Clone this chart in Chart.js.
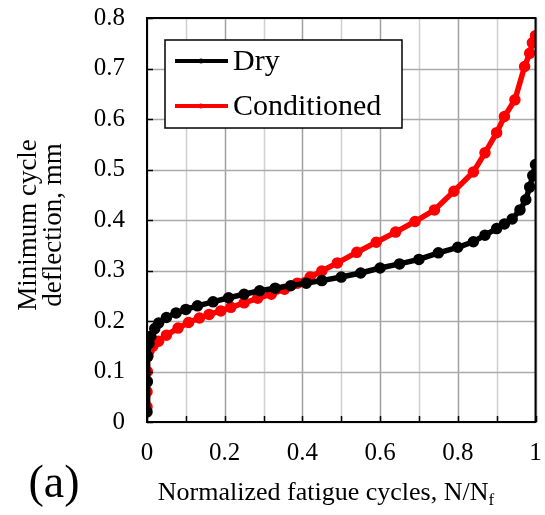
<!DOCTYPE html>
<html>
<head>
<meta charset="utf-8">
<script src="https://cdn.jsdelivr.net/npm/chart.js@4"></script>
<style>
  html, body { margin: 0; padding: 0; background: #fff; }
  #wrap { width: 545px; height: 515px; position: relative; }
</style>
</head>
<body>
<div id="wrap"><canvas id="chart"></canvas></div>
<script>
// normalized cycles N/Nf and minimum deflection (mm)
const dryX = [0, 0.001, 0.002, 0.005, 0.01, 0.02, 0.03, 0.05, 0.075, 0.1, 0.13, 0.17, 0.21, 0.25, 0.29, 0.33, 0.37, 0.41, 0.45, 0.5, 0.55, 0.6, 0.65, 0.7, 0.75, 0.8, 0.84, 0.87, 0.9, 0.92, 0.94, 0.96, 0.975, 0.985, 0.993, 1.0];
const dryY = [0.02, 0.08, 0.13, 0.155, 0.17, 0.185, 0.196, 0.207, 0.216, 0.223, 0.23, 0.238, 0.246, 0.253, 0.26, 0.265, 0.27, 0.275, 0.28, 0.287, 0.295, 0.305, 0.313, 0.322, 0.335, 0.346, 0.357, 0.37, 0.383, 0.392, 0.402, 0.42, 0.44, 0.465, 0.488, 0.51];

const condX = [0, 0, 0.001, 0.002, 0.005, 0.015, 0.03, 0.05, 0.08, 0.107, 0.135, 0.16, 0.19, 0.216, 0.25, 0.285, 0.32, 0.354, 0.387, 0.42, 0.45, 0.49, 0.54, 0.59, 0.64, 0.69, 0.74, 0.79, 0.84, 0.87, 0.9, 0.92, 0.947, 0.972, 0.985, 0.992, 1.0];
const condY = [0.03, 0.06, 0.1, 0.13, 0.14, 0.15, 0.16, 0.172, 0.186, 0.197, 0.206, 0.213, 0.22, 0.227, 0.236, 0.245, 0.253, 0.263, 0.275, 0.287, 0.299, 0.315, 0.336, 0.356, 0.376, 0.397, 0.42, 0.457, 0.495, 0.533, 0.573, 0.605, 0.638, 0.704, 0.73, 0.751, 0.765];

const seriesNames = ['Dry', 'Conditioned'];
const seriesColors = ['#000000', '#ff0000'];

const serif = '"Liberation Serif", "DejaVu Serif", serif';

function toPoints(xs, ys) {
  return xs.map((x, i) => ({ x: x, y: ys[i] }));
}

// grid lines under the data
const gridLines = {
  id: 'gridLines',
  beforeDatasetsDraw(chart) {
    const ctx = chart.ctx;
    const area = chart.chartArea;
    const xs = chart.scales.x;
    const ys = chart.scales.y;
    ctx.save();
    ctx.lineWidth = 1.5;
    xs.ticks.forEach((t, i) => {
      const px = Math.round(xs.getPixelForValue(t.value)) + 0.5;
      ctx.strokeStyle = i % 2 === 0 ? '#a0a0a0' : '#d0d0d0';
      ctx.beginPath();
      ctx.moveTo(px, area.top);
      ctx.lineTo(px, area.bottom);
      ctx.stroke();
    });
    ctx.strokeStyle = '#aaaaaa';
    ys.ticks.forEach(t => {
      const py = Math.round(ys.getPixelForValue(t.value)) + 0.5;
      ctx.beginPath();
      ctx.moveTo(area.left, py);
      ctx.lineTo(area.right, py);
      ctx.stroke();
    });
    ctx.restore();
  }
};

// titles, legend box, frame and inward tick marks
const decorations = {
  id: 'decorations',
  afterDraw(chart) {
    const ctx = chart.ctx;
    const area = chart.chartArea;
    const xs = chart.scales.x;
    const ys = chart.scales.y;

    ctx.save();
    // inward ticks
    ctx.strokeStyle = '#000';
    ctx.lineWidth = 1.5;
    ctx.beginPath();
    xs.ticks.forEach(t => {
      const px = Math.round(xs.getPixelForValue(t.value)) + 0.5;
      ctx.moveTo(px, area.bottom);
      ctx.lineTo(px, area.bottom - 6);
    });
    ys.ticks.forEach(t => {
      const py = Math.round(ys.getPixelForValue(t.value)) + 0.5;
      ctx.moveTo(area.left, py);
      ctx.lineTo(area.left + 6, py);
    });
    ctx.stroke();

    // frame
    ctx.lineWidth = 2;
    ctx.strokeRect(area.left, area.top, area.right - area.left, area.bottom - area.top);

    // y title, two lines
    ctx.fillStyle = '#000';
    ctx.font = '27px ' + serif;
    ctx.textAlign = 'center';
    ctx.textBaseline = 'middle';
    ctx.translate(29, 225);
    ctx.rotate(-Math.PI / 2);
    ctx.fillText('Minimum cycle', 0, 0);
    ctx.fillText('deflection, mm', 0, 25);
    ctx.setTransform(1, 0, 0, 1, 0, 0);

    // x title with subscript
    const main = 'Normalized fatigue cycles, N/N';
    ctx.font = '26px ' + serif;
    const w1 = ctx.measureText(main).width;
    ctx.font = '17px ' + serif;
    const w2 = ctx.measureText('f').width;
    const startX = 326 - (w1 + w2) / 2;
    ctx.textAlign = 'left';
    ctx.textBaseline = 'alphabetic';
    ctx.font = '26px ' + serif;
    ctx.fillText(main, startX, 500);
    ctx.font = '17px ' + serif;
    ctx.fillText('f', startX + w1, 505);

    // panel label
    ctx.font = '46px ' + serif;
    ctx.textAlign = 'center';
    ctx.textBaseline = 'middle';
    ctx.fillText('(a)', 54, 485);

    // legend box
    ctx.fillStyle = '#fff';
    ctx.fillRect(165, 40, 237, 88);
    ctx.strokeStyle = '#000';
    ctx.lineWidth = 1.5;
    ctx.strokeRect(165, 40, 237, 88);
    const rows = [61, 106];
    seriesNames.forEach((name, i) => {
      const y = rows[i];
      ctx.strokeStyle = seriesColors[i];
      ctx.lineWidth = 4;
      ctx.beginPath();
      ctx.moveTo(175, y);
      ctx.lineTo(228, y);
      ctx.stroke();
      ctx.fillStyle = seriesColors[i];
      ctx.beginPath();
      ctx.arc(201, y, 2.5, 0, Math.PI * 2);
      ctx.fill();
      ctx.fillStyle = '#000';
      ctx.font = '30px ' + serif;
      ctx.textAlign = 'left';
      ctx.textBaseline = 'middle';
      ctx.fillText(name, 233, y + 1);
    });
    ctx.restore();
  }
};

const ctx = document.getElementById('chart').getContext('2d');
const chart = new Chart(ctx, {
  type: 'line',
  data: {
    datasets: [
      {
        label: seriesNames[0],
        data: toPoints(dryX, dryY),
        borderColor: seriesColors[0],
        backgroundColor: seriesColors[0],
        borderWidth: 5.5,
        pointRadius: 3,
        tension: 0,
      },
      {
        label: seriesNames[1],
        data: toPoints(condX, condY),
        borderColor: seriesColors[1],
        backgroundColor: seriesColors[1],
        borderWidth: 5.5,
        pointRadius: 3,
        tension: 0,
      },
    ],
  },
  options: {
    responsive: true,
    maintainAspectRatio: false,
    animation: false,
    layout: { padding: { top: 18, right: 3, bottom: 0, left: 0 } },
    plugins: {
      legend: { display: false },
      tooltip: { enabled: false },
    },
    scales: {
      x: {
        type: 'linear',
        min: 0,
        max: 1,
        afterFit: scale => { scale.height = 93; },
        grid: {
          display: false,
          drawTicks: true,
          tickLength: 20,
        },
        border: { display: false },
        ticks: {
          stepSize: 0.1,
          padding: -4,
          maxRotation: 0,
          minRotation: 0,
          autoSkip: false,
          color: '#000',
          font: { family: serif, size: 25 },
          callback: (v, i) => (i % 2 === 0 ? String(Math.round(v * 10) / 10) : ''),
        },
      },
      y: {
        min: 0,
        max: 0.8,
        afterFit: scale => { scale.width = 147; },
        grid: {
          display: false,
          drawTicks: true,
          tickLength: 22,
        },
        border: { display: false },
        ticks: {
          stepSize: 0.1,
          padding: 0,
          color: '#000',
          font: { family: serif, size: 25 },
          callback: v => String(Math.round(v * 10) / 10),
        },
      },
    },
  },
  plugins: [gridLines, decorations],
});
</script>
</body>
</html>
